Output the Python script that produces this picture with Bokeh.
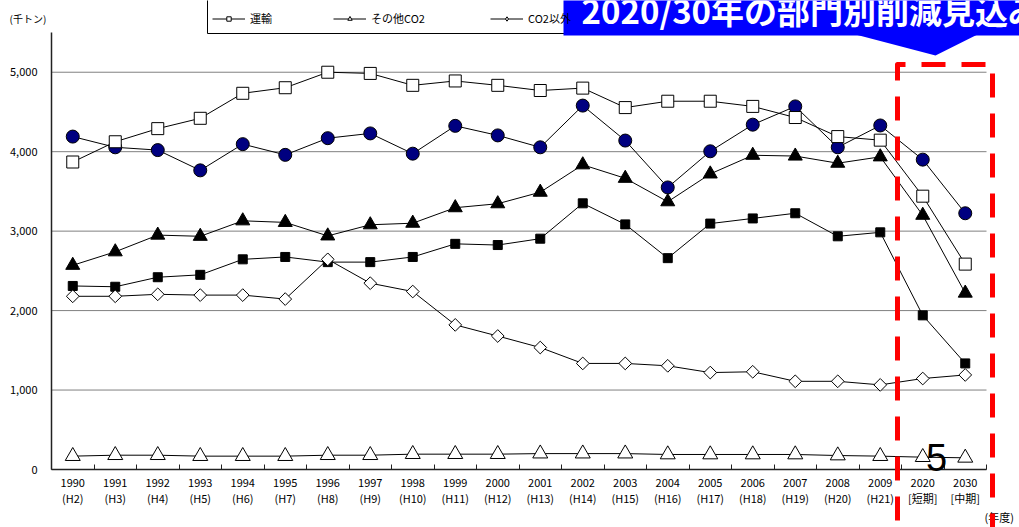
import numpy as np
from bokeh.plotting import figure
from bokeh.models import (Range1d, FixedTicker, NumeralTickFormatter, Legend,
                          LegendItem, PolyAnnotation, Label)
from bokeh.embed import file_html
from bokeh.resources import INLINE

# ---- data (千トン) ----
years = ["1990", "1991", "1992", "1993", "1994", "1995", "1996", "1997", "1998",
         "1999", "2000", "2001", "2002", "2003", "2004", "2005", "2006", "2007",
         "2008", "2009", "2020", "2030"]
eras = ["(H2)", "(H3)", "(H4)", "(H5)", "(H6)", "(H7)", "(H8)", "(H9)", "(H10)",
        "(H11)", "(H12)", "(H13)", "(H14)", "(H15)", "(H16)", "(H17)", "(H18)",
        "(H19)", "(H20)", "(H21)", "[短期]", "[中期]"]

industry = [4190, 4055, 4020, 3765, 4095, 3960, 4170, 4230, 3975, 4325, 4205,
            4055, 4580, 4140, 3550, 4005, 4340, 4570, 4055, 4330, 3900, 3225]
household = [2310, 2300, 2420, 2450, 2645, 2675, 2610, 2610, 2675, 2840, 2825,
             2905, 3350, 3085, 2660, 3095, 3160, 3225, 2935, 2985, 1940, 1335]
commercial = [2570, 2740, 2950, 2935, 3130, 3110, 2940, 3080, 3100, 3295, 3345,
              3490, 3835, 3665, 3370, 3720, 3955, 3945, 3855, 3935, 3200, 2220]
transport = [3870, 4125, 4290, 4420, 4735, 4805, 5000, 4985, 4835, 4890, 4835,
             4770, 4800, 4555, 4635, 4635, 4570, 4430, 4190, 4145, 3440, 2585]
other_co2 = [168, 180, 180, 168, 168, 168, 180, 180, 193, 193, 193,
             200, 200, 200, 189, 189, 189, 189, 176, 168, 155, 147]
non_co2 = [2180, 2180, 2205, 2195, 2195, 2145, 2645, 2345, 2240, 1820, 1680,
           1535, 1335, 1335, 1305, 1220, 1230, 1110, 1110, 1065, 1145, 1190]

y_ticks = [0, 1000, 2000, 3000, 4000, 5000]

# ---- layout: the frame fills the canvas, axes sit at fixed data locations ----
W, H = 1019, 527
PLOT_L, PLOT_R, PLOT_T, PLOT_B = 51, 986, 32, 469
Y_MAX = 5500
n = len(years)
COL_W = (PLOT_R - PLOT_L) / n
PX_PER_UNIT = (PLOT_B - PLOT_T) / Y_MAX
FONT = "Noto Sans CJK JP"


def dx(px):
    """canvas pixel x -> data x"""
    return (px - PLOT_L) / COL_W - 0.5


def dy(py):
    """canvas pixel y -> data y"""
    return (PLOT_B - py) / PX_PER_UNIT


p = figure(width=W, height=H, output_backend="svg", toolbar_location=None,
           x_range=Range1d(dx(0), dx(W)), y_range=Range1d(dy(H), dy(0)),
           min_border=0)
p.outline_line_color = None
p.background_fill_color = "white"
p.border_fill_color = "white"

xs = list(range(n))

# x axis: labels at category centres, small inward ticks on boundaries
p.xaxis.fixed_location = 0
p.xaxis.bounds = (-0.5, n - 0.5)
p.xaxis.ticker = FixedTicker(ticks=xs, minor_ticks=[i - 0.5 for i in range(n + 1)])
p.xaxis.major_label_overrides = {i: f"{years[i]}\n{eras[i]}" for i in xs}
p.xaxis.major_tick_in = 0
p.xaxis.major_tick_out = 0
p.xaxis.minor_tick_in = 5
p.xaxis.minor_tick_out = 0
p.xaxis.minor_tick_line_color = "#222222"
p.xaxis.axis_line_color = "#222222"
p.xaxis.axis_line_width = 1.5
p.xaxis.major_label_standoff = 4
p.xaxis.major_label_text_font = FONT
p.xaxis.major_label_text_font_size = "11px"
p.xaxis.major_label_text_color = "black"
p.xaxis.major_label_text_line_height = 1.05
p.xgrid.visible = False

p.yaxis.fixed_location = -0.5
p.yaxis.bounds = (0, Y_MAX)
p.yaxis.ticker = FixedTicker(ticks=y_ticks)
p.yaxis.formatter = NumeralTickFormatter(format="0,0")
p.yaxis.major_tick_out = 0
p.yaxis.major_tick_in = 0
p.yaxis.minor_tick_out = 0
p.yaxis.axis_line_color = "#222222"
p.yaxis.axis_line_width = 1.5
p.yaxis.major_label_standoff = 14
p.yaxis.major_label_text_font = FONT
p.yaxis.major_label_text_font_size = "11px"
p.yaxis.major_label_text_color = "black"
p.ygrid.visible = False

# horizontal gridlines across the plotting band only
p.segment(x0=[-0.5] * len(y_ticks), x1=[n - 0.5] * len(y_ticks),
          y0=y_ticks, y1=y_ticks, line_color="#808080", line_width=1,
          level="underlay")

# ---- series ----
series = [
    ("産業", industry, "circle", 13, "#000080", 0.0),
    ("家庭", household, "square", 9, "black", 0.0),
    ("業務", commercial, "triangle", 14, "black", 0.0),
    ("運輸", transport, "square", 12, "white", 0.0),
    ("その他CO2", other_co2, "triangle", 15, "white", 0.0),
    ("CO2以外", non_co2, "square", 9, "white", np.pi / 4),
]

items = []
for label, vals, marker, size, fill, ang in series:
    lr = p.line(xs, vals, line_color="black", line_width=1)
    sr = p.scatter(xs, vals, marker=marker, size=size, fill_color=fill,
                   line_color="black", line_width=1, angle=ang)
    key = [lr, sr]
    if ang:
        # legend swatch for the turned square: an upright diamond
        key = [lr, p.scatter(xs, vals, marker="diamond", size=size,
                             fill_color=fill, line_color="black",
                             visible=False)]
    items.append(LegendItem(label=label, renderers=key))

# ---- legend (box runs off the top edge) ----
p.add_layout(PolyAnnotation(xs=[dx(207), dx(207), dx(620), dx(620)],
                            ys=[dy(-40), dy(33), dy(33), dy(-40)],
                            fill_color="white", fill_alpha=1,
                            line_color="black", line_alpha=1, line_width=1))

col_left = [212, 333, 490]
row_mid = [-5, 19]
for k, item in enumerate(items):
    r, c = divmod(k, 3)
    h = 14
    lg = Legend(items=[item],
                location=(col_left[c], H - (row_mid[r] + h / 2)),
                border_line_color=None, background_fill_alpha=0,
                padding=0, margin=0, spacing=0,
                glyph_width=33, glyph_height=11, label_height=h,
                label_standoff=5, label_text_font=FONT,
                label_text_font_size="11px", label_text_color="black")
    p.add_layout(lg)

# ---- axis captions ----
p.add_layout(Label(x=dx(9), y=dy(18), text="(千トン)", text_font=FONT,
                   text_font_size="10px", text_baseline="middle",
                   text_align="left", text_color="black"))
p.add_layout(Label(x=dx(984), y=dy(516), text="(年度)", text_font=FONT,
                   text_font_size="11px", text_baseline="middle",
                   text_align="left", text_color="black"))

# ---- highlighted projection period ----
p.add_layout(PolyAnnotation(xs=[dx(897), dx(897), dx(992), dx(992)],
                            ys=[dy(560), dy(64), dy(64), dy(560)],
                            fill_alpha=0, line_color="#FF0000", line_alpha=1,
                            line_width=5, line_dash="24 16", line_join="round"))

# ---- callout banner ----
p.add_layout(PolyAnnotation(xs=[dx(563), dx(563), dx(1030), dx(1030)],
                            ys=[dy(-20), dy(35), dy(35), dy(-20)],
                            fill_color="#0000FF", fill_alpha=1,
                            line_color=None))
p.add_layout(PolyAnnotation(xs=[dx(855), dx(977), dx(935)],
                            ys=[dy(34), dy(34), dy(55)],
                            fill_color="#0000FF", fill_alpha=1,
                            line_color=None))
p.add_layout(Label(x=dx(581), y=dy(9), text="2020/30年の部門別削減見込み",
                   text_font=FONT, text_font_size="33px",
                   text_font_style="bold", text_color="white",
                   text_baseline="middle", text_align="left"))

# page number
p.add_layout(Label(x=dx(936), y=dy(457), text="5", text_font="Liberation Sans",
                   text_font_size="38px", text_color="black",
                   text_baseline="middle", text_align="center"))

open("out.html", "w").write(file_html(p, INLINE))
